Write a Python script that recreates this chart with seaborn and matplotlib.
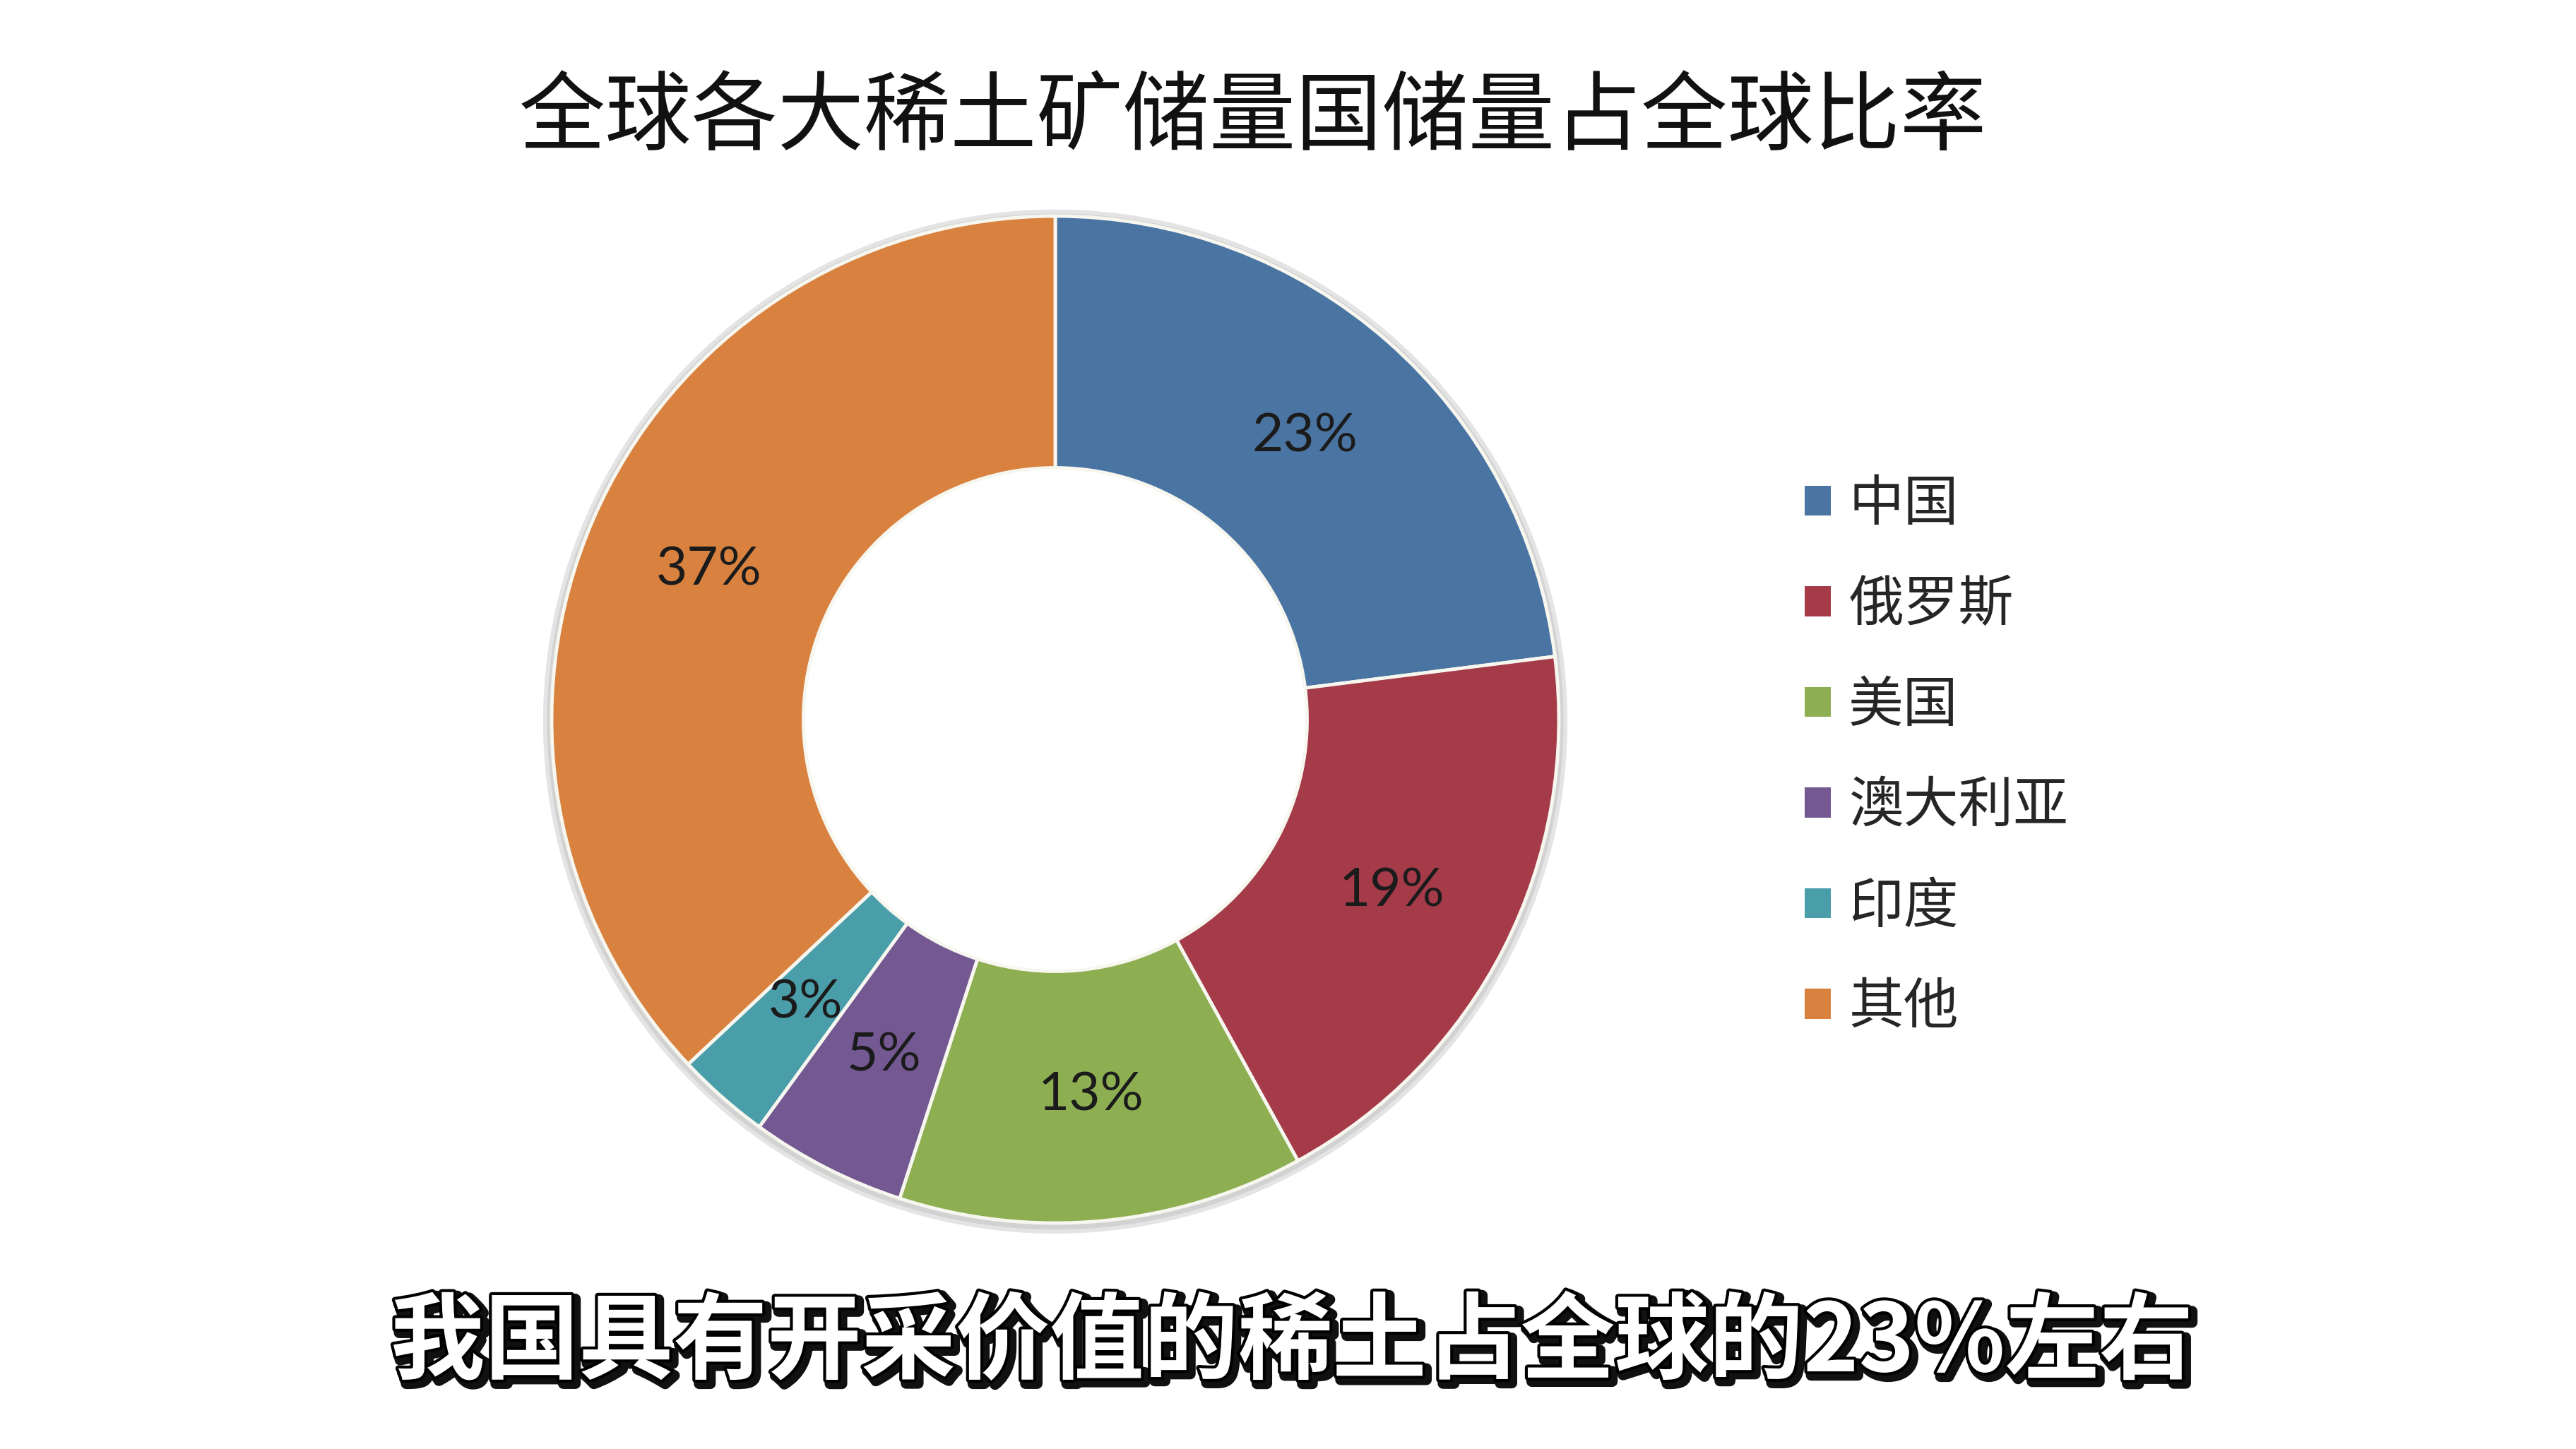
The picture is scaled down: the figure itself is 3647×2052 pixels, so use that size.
import matplotlib
matplotlib.use("Agg")
import matplotlib.pyplot as plt
import matplotlib.patheffects as pe
from matplotlib.patches import Patch, Wedge
import seaborn as sns

# 数据
countries = ['中国', '俄罗斯', '美国', '澳大利亚', '印度', '其他']
shares = [23, 19, 13, 5, 3, 37]
colors = ['#4a74a2', '#a53b48', '#8eae52', '#735891', '#4a9eaa', '#d9823f']

title = '全球各大稀土矿储量国储量占全球比率'
caption = '我国具有开采价值的稀土占全球的23%左右'

sns.set_theme(style="white")
plt.rcParams['font.family'] = ['Noto Sans CJK SC', 'DejaVu Sans']

fig = plt.figure(figsize=(36.48, 20.52), dpi=100)
fig.patch.set_facecolor('white')

# 饼图区域: 中心 (1494, 1019) px, 外半径约 713 px
cx, cy, r = 1494 / 3648, 1 - 1019 / 2052, 713
ax = fig.add_axes([cx - r / 3648, cy - r / 2052, 2 * r / 3648, 2 * r / 2052])

# 外圈浅阴影 (环形)
ax.add_patch(Wedge((0, -0.004), 1.016, 0, 360, width=0.05, color='#e4e4e4',
                   zorder=0, clip_on=False))
ax.add_patch(Wedge((0, -0.004), 1.008, 0, 360, width=0.04, color='#d2d2d2',
                   zorder=0.5, clip_on=False))

wedges, texts, autotexts = ax.pie(
    shares, colors=colors, startangle=90, counterclock=False, radius=1,
    autopct=lambda p: f"{p:.0f}%", pctdistance=0.75,
    wedgeprops=dict(width=0.5, edgecolor='#f7f7f0', linewidth=3.5),
    textprops=dict(fontsize=55, color='#1b1b1b', family=['Lato', 'DejaVu Sans']),
)
for w in wedges:
    w.set_zorder(2)
    w.set_clip_on(False)
ax.set_xlim(-1, 1)
ax.set_ylim(-1, 1)
ax.set_aspect('equal')
ax.axis('off')

# 标题
fig.text(0.4864, 0.918, title, ha='center', va='center', fontsize=88, color='#111111')

# 图例
handles = [Patch(facecolor=c, edgecolor='none') for c in colors]
fig.legend(handles, countries, loc='center left', bbox_to_anchor=(0.7004, 0.478),
           frameon=False, fontsize=56, handlelength=0.47, handleheight=0.47,
           handletextpad=0.33, labelspacing=0.81, borderpad=0, borderaxespad=0)

# 字幕
fig.text(0.5015, 0.0726, caption, ha='center', va='center', fontsize=96,
         fontweight='bold', color='white',
         path_effects=[pe.Stroke(linewidth=11, foreground='#111111', offset=(4, -4)),
                       pe.Stroke(linewidth=6, foreground='black'),
                       pe.Normal()])

plt.savefig("out.png", dpi=100, facecolor='white')
plt.close()
